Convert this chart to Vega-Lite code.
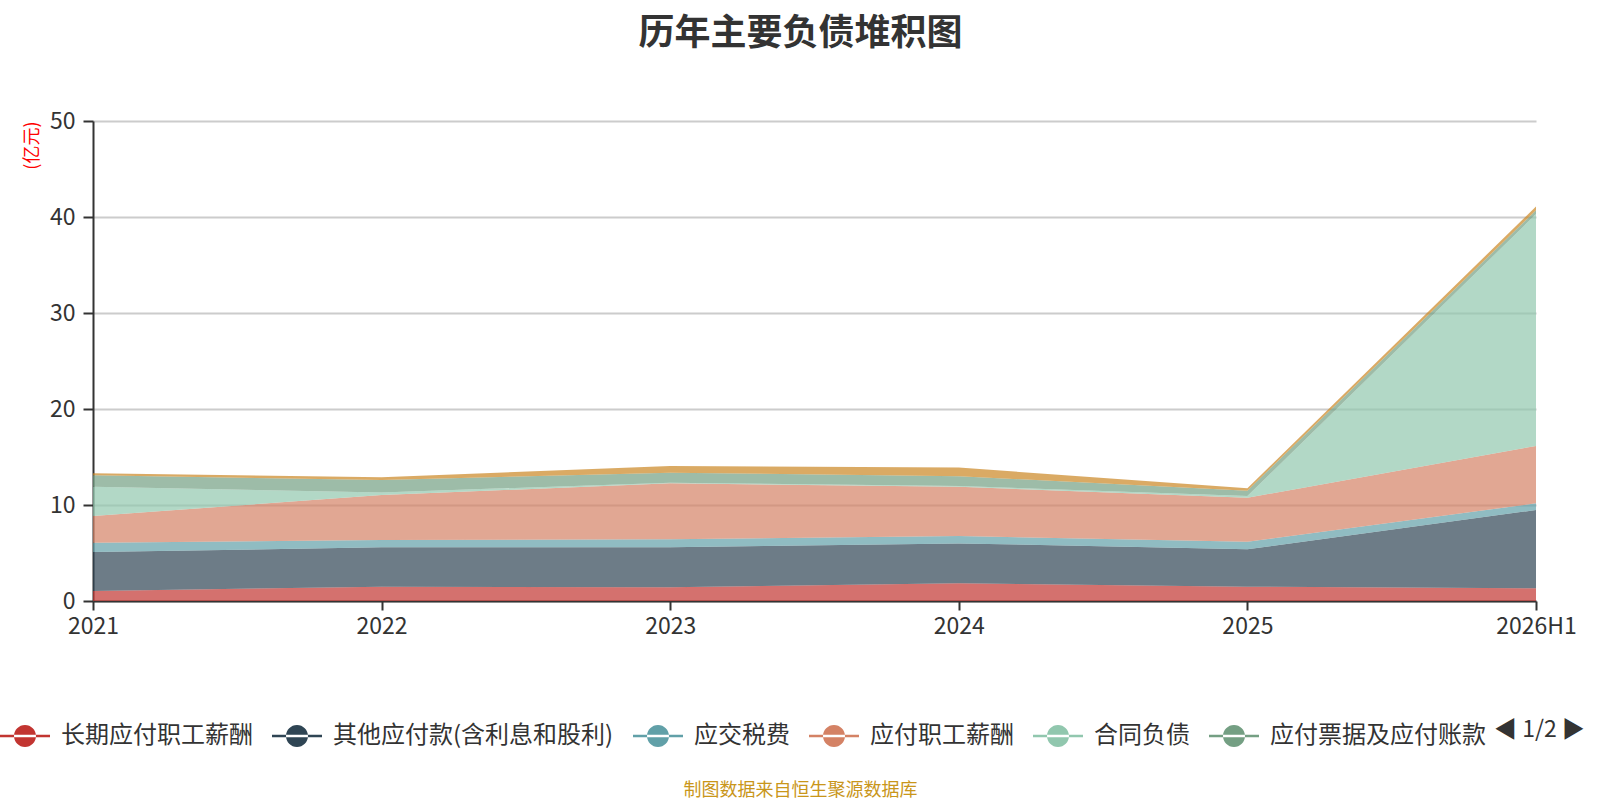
{
  "$schema": "https://vega.github.io/schema/vega-lite/v6.json",
  "width": 1443,
  "height": 480,
  "autosize": {"type": "none"},
  "padding": {"left": 93, "top": 121, "right": 64, "bottom": 199},
  "background": "white",
  "title": {
    "text": "历年主要负债堆积图",
    "fontSize": 36,
    "fontWeight": "bold",
    "color": "#333333",
    "anchor": "middle",
    "dx": -14,
    "offset": 57
  },
  "data": {
    "values": [
      {"year": "2021", "name": "长期应付职工薪酬", "value": 1.04},
      {"year": "2021", "name": "其他应付款(含利息和股利)", "value": 4.06},
      {"year": "2021", "name": "应交税费", "value": 0.97},
      {"year": "2021", "name": "应付职工薪酬", "value": 2.78},
      {"year": "2021", "name": "合同负债", "value": 3.05},
      {"year": "2021", "name": "应付票据及应付账款", "value": 1.2},
      {"year": "2021", "name": "租赁负债", "value": 0.2},
      {"year": "2022", "name": "长期应付职工薪酬", "value": 1.49},
      {"year": "2022", "name": "其他应付款(含利息和股利)", "value": 4.1},
      {"year": "2022", "name": "应交税费", "value": 0.76},
      {"year": "2022", "name": "应付职工薪酬", "value": 4.69},
      {"year": "2022", "name": "合同负债", "value": 0.26},
      {"year": "2022", "name": "应付票据及应付账款", "value": 1.3},
      {"year": "2022", "name": "租赁负债", "value": 0.3},
      {"year": "2023", "name": "长期应付职工薪酬", "value": 1.42},
      {"year": "2023", "name": "其他应付款(含利息和股利)", "value": 4.17},
      {"year": "2023", "name": "应交税费", "value": 0.83},
      {"year": "2023", "name": "应付职工薪酬", "value": 5.84},
      {"year": "2023", "name": "合同负债", "value": 0.07},
      {"year": "2023", "name": "应付票据及应付账款", "value": 1.04},
      {"year": "2023", "name": "租赁负债", "value": 0.69},
      {"year": "2024", "name": "长期应付职工薪酬", "value": 1.84},
      {"year": "2024", "name": "其他应付款(含利息和股利)", "value": 4.16},
      {"year": "2024", "name": "应交税费", "value": 0.77},
      {"year": "2024", "name": "应付职工薪酬", "value": 5.13},
      {"year": "2024", "name": "合同负债", "value": 0.08},
      {"year": "2024", "name": "应付票据及应付账款", "value": 1.02},
      {"year": "2024", "name": "租赁负债", "value": 0.9},
      {"year": "2025", "name": "长期应付职工薪酬", "value": 1.49},
      {"year": "2025", "name": "其他应付款(含利息和股利)", "value": 3.89},
      {"year": "2025", "name": "应交税费", "value": 0.8},
      {"year": "2025", "name": "应付职工薪酬", "value": 4.58},
      {"year": "2025", "name": "合同负债", "value": 0.18},
      {"year": "2025", "name": "应付票据及应付账款", "value": 0.55},
      {"year": "2025", "name": "租赁负债", "value": 0.25},
      {"year": "2026H1", "name": "长期应付职工薪酬", "value": 1.32},
      {"year": "2026H1", "name": "其他应付款(含利息和股利)", "value": 8.16},
      {"year": "2026H1", "name": "应交税费", "value": 0.69},
      {"year": "2026H1", "name": "应付职工薪酬", "value": 5.98},
      {"year": "2026H1", "name": "合同负债", "value": 24.15},
      {"year": "2026H1", "name": "应付票据及应付账款", "value": 0.4},
      {"year": "2026H1", "name": "租赁负债", "value": 0.4}
    ]
  },
  "transform": [
    {
      "calculate": "indexof(['长期应付职工薪酬', '其他应付款(含利息和股利)', '应交税费', '应付职工薪酬', '合同负债', '应付票据及应付账款', '租赁负债'], datum.name)",
      "as": "k"
    }
  ],
  "mark": {"type": "area", "opacity": 0.7},
  "encoding": {
    "x": {
      "field": "year",
      "type": "ordinal",
      "scale": {"type": "point", "padding": 0},
      "axis": {
        "title": "制图数据来自恒生聚源数据库",
        "titleColor": "#c9961a",
        "titleFontSize": 18,
        "titleFontWeight": "normal",
        "titleX": 707,
        "titleY": 189,
        "titleAlign": "center",
        "titleBaseline": "middle",
        "labelAngle": 0,
        "labelFontSize": 23,
        "labelColor": "#333333",
        "labelPadding": 5,
        "tickSize": 9,
        "tickColor": "#333333",
        "tickWidth": 2,
        "domainColor": "#333333",
        "domainWidth": 2,
        "grid": false
      }
    },
    "y": {
      "field": "value",
      "type": "quantitative",
      "stack": "zero",
      "scale": {"domain": [0, 50]},
      "axis": {
        "title": "(亿元)",
        "titleColor": "red",
        "titleFontSize": 18,
        "titleFontWeight": "normal",
        "titleAngle": 270,
        "titleX": -61,
        "titleY": 0,
        "titleAlign": "right",
        "titleBaseline": "middle",
        "values": [0, 10, 20, 30, 40, 50],
        "labelFontSize": 23,
        "labelColor": "#333333",
        "labelPadding": 8,
        "tickSize": 10,
        "tickColor": "#333333",
        "tickWidth": 2,
        "domainColor": "#333333",
        "domainWidth": 2,
        "gridColor": "#cccccc",
        "gridWidth": 2
      }
    },
    "color": {
      "field": "name",
      "type": "nominal",
      "scale": {
        "domain": ["长期应付职工薪酬", "其他应付款(含利息和股利)", "应交税费", "应付职工薪酬", "合同负债", "应付票据及应付账款", "租赁负债"],
        "range": ["#c23531", "#2f4554", "#61a0a8", "#d48265", "#91c7ae", "#749f83", "#ca8622"]
      },
      "legend": {
        "values": ["长期应付职工薪酬", "其他应付款(含利息和股利)", "应交税费", "应付职工薪酬", "合同负债", "应付票据及应付账款"],
        "orient": "none",
        "direction": "horizontal",
        "legendX": -93,
        "legendY": 590,
        "padding": 0,
        "title": "◀ 1/2 ▶",
        "titleOrient": "right",
        "titleFontSize": 23,
        "titleFontWeight": "normal",
        "titleColor": "#333333",
        "titlePadding": 8,
        "symbolType": "M-1,-0.05H1V0.05H-1Z M-0.44,0A0.44,0.44 0 1,0 0.44,0A0.44,0.44 0 1,0 -0.44,0Z",
        "symbolSize": 2500,
        "symbolOpacity": 1,
        "symbolStrokeWidth": 0,
        "labelFontSize": 24,
        "labelColor": "#333333",
        "labelOffset": 11,
        "labelLimit": 500,
        "columnPadding": 19
      }
    },
    "order": {"field": "k", "type": "quantitative"}
  },
  "config": {
    "view": {"stroke": null},
    "font": "Noto Sans CJK SC"
  }
}
